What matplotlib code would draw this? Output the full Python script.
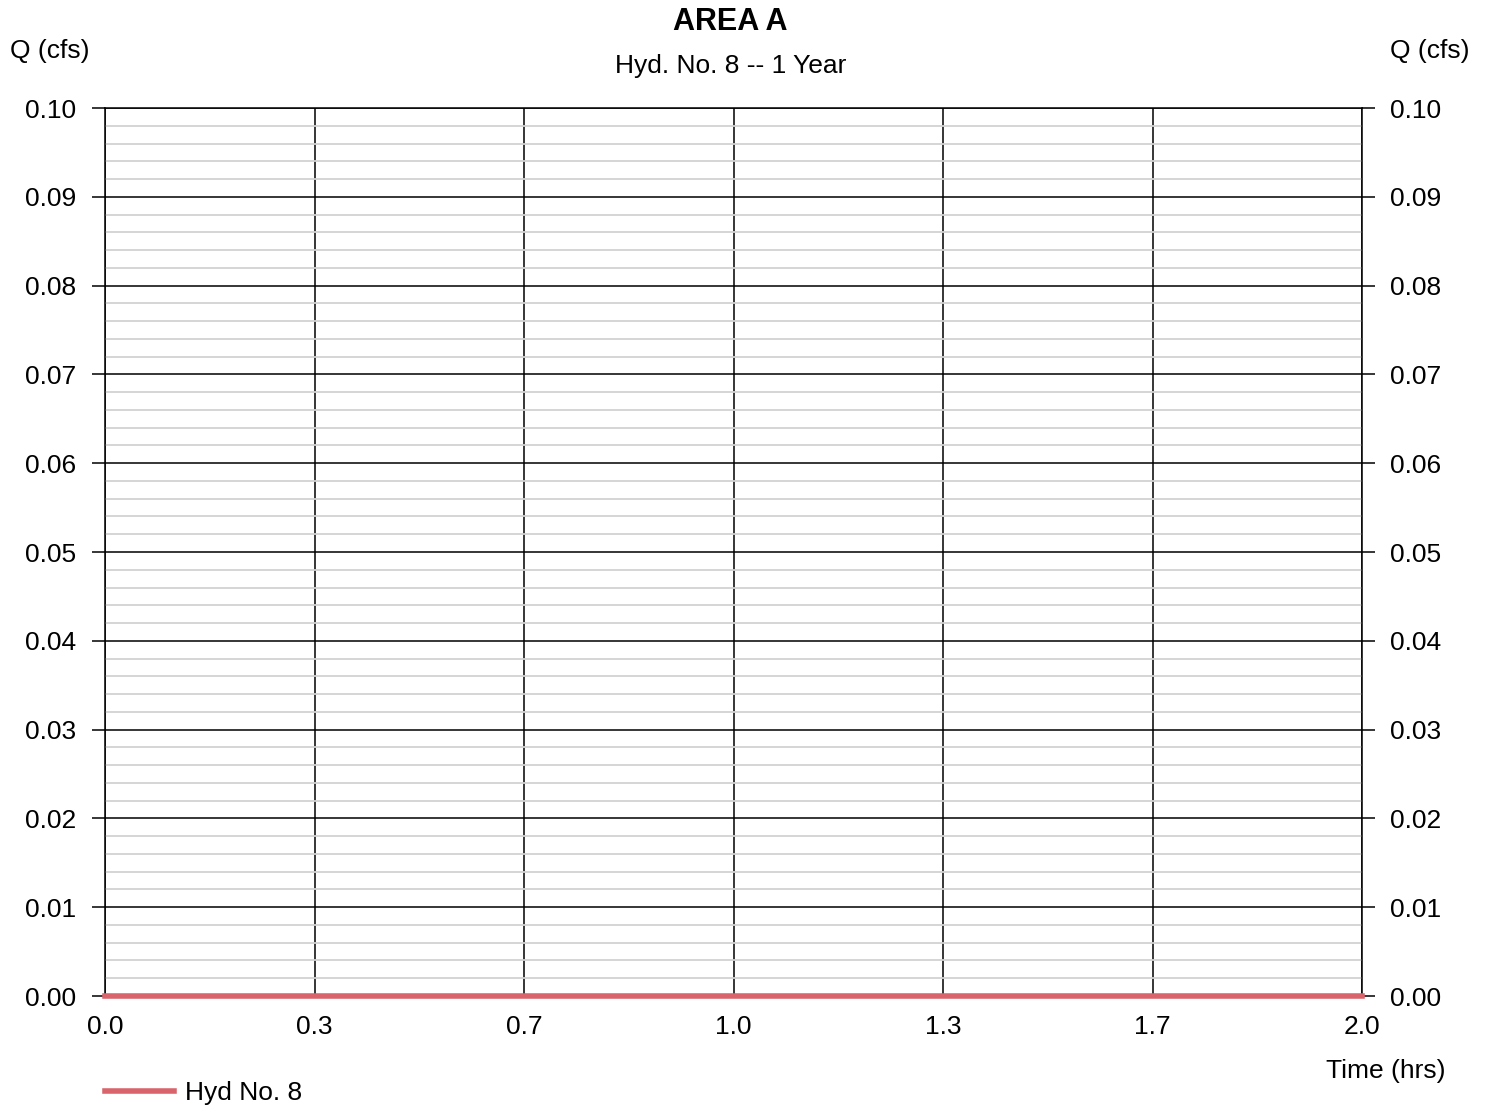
import matplotlib

matplotlib.use("Agg")
import matplotlib.pyplot as plt
import numpy as np
from matplotlib.ticker import MultipleLocator, FixedLocator

plt.rcParams["font.family"] = ["Liberation Sans", "DejaVu Sans"]

# hydrograph data
time_hrs = [0.0, 0.25, 0.5, 0.75, 1.0, 1.25, 1.5, 1.75, 2.0]
q_cfs = [0.0, 0.0, 0.0, 0.0, 0.0, 0.0, 0.0, 0.0, 0.0]

x_ticks = [0.0, 1 / 3, 2 / 3, 1.0, 4 / 3, 5 / 3, 2.0]
x_tick_labels = ["0.0", "0.3", "0.7", "1.0", "1.3", "1.7", "2.0"]
y_ticks = [0.00, 0.01, 0.02, 0.03, 0.04, 0.05, 0.06, 0.07, 0.08, 0.09, 0.10]

fs = 19

fig = plt.figure(figsize=(14.88, 11.06), dpi=100)
ax = fig.add_axes([105 / 1488, 1 - 996 / 1106, (1362 - 105) / 1488, (996 - 108) / 1106])

ax.set_xlim(0, 2.0)
ax.set_ylim(0, 0.10)

ax.yaxis.set_minor_locator(MultipleLocator(0.002))
ax.grid(True, which="minor", axis="y", color="#d2d2d2", linewidth=1.3, zorder=0)
ax.grid(True, which="major", color="black", linewidth=1.1, zorder=1)
ax.tick_params(which="minor", length=0)

ax.plot(time_hrs, q_cfs, color="#d9646c", linewidth=4, label="Hyd No. 8",
        zorder=5, clip_on=False)

ax.xaxis.set_major_locator(FixedLocator(x_ticks))
ax.set_xticklabels(x_tick_labels)
ax.set_yticks(y_ticks)
ax.set_yticklabels([f"{v:.2f}" for v in y_ticks])
ax.tick_params(axis="y", which="major", direction="out", length=9.5, width=1.1,
               labelsize=fs, left=True, right=True, labelleft=True, labelright=True,
               pad=11, color="black")
ax.tick_params(axis="x", which="major", length=0, labelsize=fs, pad=14)

for spine in ax.spines.values():
    spine.set_linewidth(1.1)

fig.text(730 / 1488, 1 - 22 / 1106, "AREA A", ha="center", va="center",
         fontsize=22, fontweight="bold")
fig.text(731 / 1488, 1 - 66 / 1106, "Hyd. No. 8 -- 1 Year", ha="center",
         va="center", fontsize=fs)
fig.text(50 / 1488, 1 - 51 / 1106, "Q (cfs)", ha="center", va="center", fontsize=fs)
fig.text(1430 / 1488, 1 - 51 / 1106, "Q (cfs)", ha="center", va="center", fontsize=fs)
fig.text(1386 / 1488, 1 - 1071 / 1106, "Time (hrs)", ha="center", va="center",
         fontsize=fs)

fig.legend(loc="center left", bbox_to_anchor=(105 / 1488, 1 - 1093 / 1106),
           frameon=False, fontsize=fs, handlelength=2.6, handletextpad=0.45,
           borderpad=0, borderaxespad=0)

fig.savefig("out.png", dpi=100, facecolor="white")
plt.close(fig)
